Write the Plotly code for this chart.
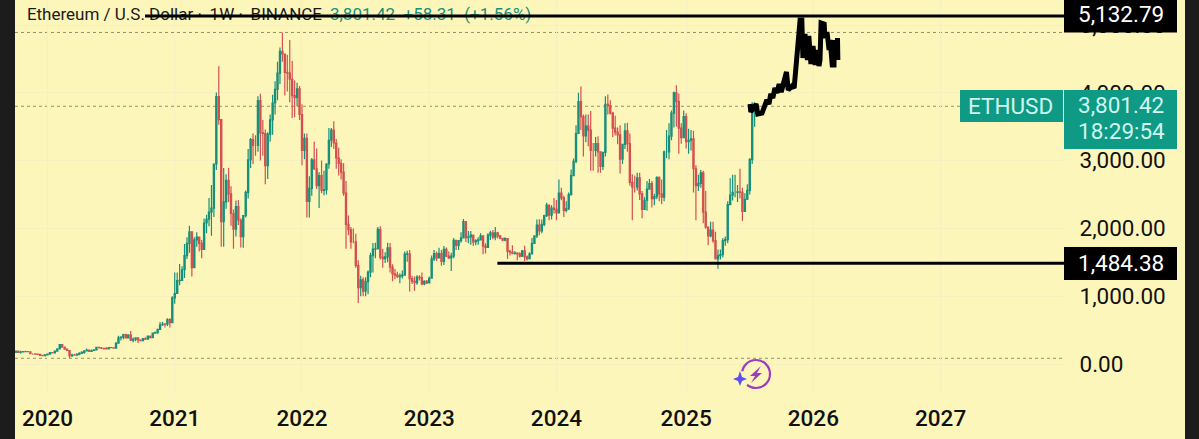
import pandas as pd
import plotly.graph_objects as go

W, H = 1199, 439
BG = "#FDF6BB"
UP = "#16907A"
DOWN = "#D2504F"

first_week = "2019-10-07"

close_2019 = [189,172,180,183,184,181,151,151,147,142,128,125,135]
high_2019 = [197,180,197,192,197,190,184,157,152,151,145,135,145]
low_2019 = [168,166,155,176,180,178,145,138,144,139,117,120,125]

close_2020 = [146,168,162,189,223,285,250,218,199,124,132,131,143,158,170,194,206,187,199,208,244,240,232,228,221,242,240,232,306,387,395,433,385,428,352,365,385,354,346,375,366,413,387,454,464,510,575,590,586,655,611,975]
high_2020 = [147,175,178,189,225,288,288,252,230,200,150,149,160,172,188,195,228,215,215,218,245,253,250,240,250,245,250,245,325,415,410,445,445,440,488,390,395,394,365,380,395,418,420,465,480,515,620,625,605,676,675,1000]
low_2020 = [130,143,155,155,180,220,240,210,190,90,105,125,125,128,150,152,190,180,180,190,200,228,222,215,215,215,235,225,230,305,345,365,375,378,340,320,335,310,340,335,355,360,375,380,445,445,500,565,540,560,540,600]

close_2021 = [1040,1230,1232,1390,1600,1780,1950,1420,1830,1870,1780,1690,2080,2135,2240,2300,2950,3945,3606,2098,2390,2710,2510,2220,1990,2320,2120,1880,2190,2530,3010,3310,3225,3225,3885,3410,3400,2925,3390,3600,3850,4050,4290,4610,4570,4300,4290,4200,3960,3930,4060,3680]
high_2021 = [1350,1350,1475,1440,1770,1870,2040,1950,1870,1945,1880,1830,2145,2200,2450,2640,2950,4005,4393,3590,2890,2800,2890,2620,2280,2410,2420,2150,2190,2560,3170,3335,3400,3375,3950,3985,3600,3460,3420,3680,3970,4170,4460,4670,4890,4340,4560,4780,4470,4180,4150,4100]
low_2021 = [890,1045,1160,1230,1270,1550,1640,1290,1420,1730,1660,1560,1680,1930,2030,1890,2170,2860,3530,1730,1730,2290,2390,2040,1700,1880,2050,1720,1715,2160,2440,2890,2950,3070,3130,3000,3070,2650,2730,3280,3380,3680,3890,4130,4460,3960,4020,3860,3630,3640,3800,3600]

close_2022 = [3150,3330,2400,2590,3010,2880,2630,2780,2560,2570,2950,3300,3450,3260,3040,2960,2830,2520,2060,1980,1800,1800,1450,1125,1240,1075,1215,1355,1600,1695,1700,1985,1575,1555,1580,1715,1430,1330,1310,1290,1300,1310,1620,1625,1260,1220,1200,1280,1275,1180,1220,1195]
high_2022 = [3830,3400,3400,2770,3040,3280,3180,2830,3000,2850,2960,3480,3480,3580,3320,3190,3020,2960,2700,2190,2020,2000,1920,1530,1300,1280,1280,1380,1640,1785,1790,2020,2030,1700,1650,1790,1785,1470,1400,1360,1340,1380,1660,1670,1680,1300,1290,1310,1310,1350,1235,1240]
low_2022 = [2930,3020,2160,2160,2480,2860,2580,2300,2520,2490,2500,2880,3200,3170,2880,2780,2720,2480,1700,1900,1700,1780,1420,900,1000,1000,1000,1030,1280,1350,1560,1690,1540,1420,1490,1500,1350,1220,1250,1270,1190,1260,1300,1510,1070,1180,1080,1170,1230,1160,1160,1180]

close_2023 = [1265,1550,1630,1565,1630,1515,1690,1590,1565,1590,1825,1750,1820,1860,2100,1865,1875,1900,1800,1820,1830,1890,1740,1720,1900,1935,1870,1935,1890,1855,1825,1850,1660,1650,1630,1635,1625,1590,1670,1580,1555,1625,1780,1890,2050,1965,2060,2190,2345,2195,2300,2280]
high_2023 = [1290,1600,1680,1660,1715,1680,1740,1720,1660,1640,1860,1830,1830,1945,2140,2110,1960,1960,1910,1840,1870,1930,1890,1780,1930,1965,1975,2020,1950,1890,1860,1870,1860,1685,1750,1665,1650,1650,1680,1745,1600,1650,1860,1895,2130,2135,2130,2200,2380,2350,2340,2450]
low_2023 = [1190,1260,1520,1520,1580,1450,1460,1575,1550,1370,1560,1680,1680,1790,1850,1800,1780,1760,1740,1750,1760,1820,1620,1630,1710,1830,1840,1825,1850,1840,1810,1810,1550,1600,1620,1610,1530,1570,1580,1520,1525,1540,1620,1770,1860,1900,1930,2030,2170,2120,2130,2220]

close_2024 = [2230,2520,2450,2265,2290,2500,2780,2990,3400,3870,3650,3365,3510,3450,3150,3150,3250,3130,2915,3120,3830,3810,3700,3480,3420,3380,3020,3240,3440,3250,2680,2610,2610,2745,2510,2280,2415,2580,2660,2440,2470,2750,2510,2460,3130,3130,3360,3700,4000,3870,3480,3340,3650]
high_2024 = [2420,2720,2600,2480,2400,2530,2870,3030,3520,4000,4093,3680,3680,3680,3730,3260,3350,3360,3130,3130,3950,3975,3890,3720,3660,3490,3520,3240,3550,3560,3400,2800,2780,2820,2820,2550,2460,2700,2730,2700,2510,2770,2770,2720,3150,3450,3550,3740,4020,4110,3990,3550,3740]
low_2024 = [2120,2220,2415,2170,2240,2270,2480,2780,2960,3400,3450,3060,3270,3210,2850,2850,3060,2820,2820,2860,3060,3680,3680,3350,3370,3240,2810,2950,3170,3130,2630,2120,2530,2560,2420,2150,2270,2260,2570,2310,2340,2430,2400,2360,2400,3040,3020,3300,3490,3500,3100,3250,3350]

close_2025 = [3280,3300,3320,2880,2630,2665,2820,2240,2020,1890,1975,1820,1550,1600,1615,1820,1835,2350,2490,2530,2530,2540,2530,2250,2430,2560,3015,3743,3801]
high_2025 = [3700,3470,3450,3440,2930,2790,2860,2850,2550,1990,2100,2100,1950,1690,1690,1860,1880,2400,2740,2790,2790,2640,2880,2600,2520,2650,3040,3860,3860]
low_2025 = [3180,3100,3150,2530,2120,2550,2600,2075,1995,1750,1870,1790,1540,1404,1540,1570,1745,1780,2430,2410,2460,2390,2440,2110,2280,2420,2500,2950,3500]

sketch_dates = ["2025-07-08","2025-07-10","2025-07-25","2025-07-30","2025-08-11","2025-08-19","2025-08-25","2025-08-31","2025-09-05","2025-09-11","2025-09-17","2025-09-23","2025-09-29","2025-10-05","2025-10-14","2025-10-20","2025-10-25","2025-11-05","2025-11-11","2025-11-17","2025-11-22","2025-11-25","2025-11-28","2025-12-03","2025-12-04","2025-12-06","2025-12-12","2025-12-19","2025-12-23","2025-12-29","2026-01-04","2026-01-10","2026-01-16","2026-01-21","2026-01-24","2026-01-27","2026-02-05","2026-02-07","2026-02-13","2026-02-19","2026-02-22","2026-02-28","2026-03-05","2026-03-06","2026-03-12","2026-03-15","2026-03-16"]
sketch_prices = [3835,3717,3835,3688,3702,3806,3894,3835,3983,3924,4071,3997,4130,4012,4160,4307,4042,4100,4071,4454,4602,4838,5074,5074,4720,4513,4868,4484,4838,4425,4690,4410,4631,4395,4484,5030,5015,4808,4897,4631,4779,4410,4410,4779,4513,4808,4484]

year_labels = ["2020","2021","2022","2023","2024","2025","2026","2027"]
year_ticks = ["2020-01-06","2021-01-04","2022-01-03","2023-01-02","2024-01-01","2025-01-06","2026-01-05","2027-01-04"]
price_ticks = [0,1000,2000,3000,4000,5000]
price_high = 5132.79
price_low = 1484.38
price_last = 3801.42
high_mark = 4890
low_mark = 84

closes = close_2019+close_2020+close_2021+close_2022+close_2023+close_2024+close_2025
highs = high_2019+high_2020+high_2021+high_2022+high_2023+high_2024+high_2025
lows = low_2019+low_2020+low_2021+low_2022+low_2023+low_2024+low_2025
opens = [170]+closes[:-1]
weeks = pd.date_range(first_week, periods=len(closes), freq="7D")

def X(px): return px/W
def Y(py): return 1-py/H

fig = go.Figure()
fig.add_trace(go.Scatter(
    x=["2019-11-08","2022-03-24"], y=[price_high,price_high], mode="text",
    text=["Ethereum / U.S. Dollar \u00b7\u2009 1W \u00b7\u2009 BINANCE","3,801.42  +58.31  (+1.56%)"],
    textposition="middle right", cliponaxis=False,
    textfont=dict(family="Roboto",size=17,color=["#1a1a1a",UP]), hoverinfo="skip"))
fig.add_trace(go.Candlestick(
    x=weeks, open=opens, high=highs, low=lows, close=closes,
    increasing=dict(line=dict(color=UP,width=1.2),fillcolor=UP),
    decreasing=dict(line=dict(color=DOWN,width=1.2),fillcolor=DOWN)))
fig.add_trace(go.Scatter(x=sketch_dates,y=sketch_prices,mode="lines",
    line=dict(color="#000000",width=5,shape="linear"),hoverinfo="skip"))

shapes = []
for v in [high_mark, price_last, low_mark]:
    shapes.append(dict(type="line",xref="paper",x0=X(15),x1=X(1064),yref="y",y0=v,y1=v,
                       line=dict(color="rgba(90,90,60,0.65)",width=1,dash="dot"),layer="below"))
shapes += [
    dict(type="line",xref="x",x0="2020-10-11",x1="2027-12-23",yref="y",y0=price_high,y1=price_high,line=dict(color="#000",width=3)),
    dict(type="line",xref="x",x0="2023-07-16",x1="2027-12-23",yref="y",y0=price_low,y1=price_low,line=dict(color="#000",width=3)),
]
def rect(x0,y0,x1,y1,color):
    return dict(type="rect",xref="paper",yref="paper",x0=X(x0),x1=X(x1),y0=Y(y0),y1=Y(y1),
                fillcolor=color,line=dict(width=0))
shapes += [
    rect(0,0,15,H,"#1C1C1C"), rect(1185,0,W,H,"#1C1C1C"),
    rect(1064,0,1177,32.5,"#000000"), rect(1064,247,1177,280,"#000000"),
    rect(960,90,1063,122,"#0E9A85"), rect(1064,90,1177,149,"#0E9A85"),
]
def path(pts):
    return "M "+" L ".join(f"{X(a):.5f},{Y(b):.5f}" for a,b in pts)+" Z"
purple = "#9B3FBE"
shapes += [
    dict(type="circle",xref="paper",yref="paper",x0=X(742),x1=X(770),y0=Y(360),y1=Y(388),
         line=dict(color=purple,width=2.2)),
    dict(type="circle",xref="paper",yref="paper",x0=X(732),x1=X(749),y0=Y(371),y1=Y(388),
         fillcolor=BG,line=dict(width=0)),
    dict(type="path",xref="paper",yref="paper",fillcolor=purple,line=dict(width=0),
         path=path([(761,366),(750,376),(755,376),(751,383),(762,373),(757,373)])),
    dict(type="path",xref="paper",yref="paper",fillcolor="#5B4FEF",line=dict(width=0),
         path=path([(740,371),(742,377),(747,379),(742,381),(740,386),(738,381),(733,379),(738,377)])),
]

def note(px,py,text,color,size=22.5):
    return dict(xref="paper",yref="paper",x=X(px),y=Y(py),text=text,showarrow=False,xanchor="left",yanchor="middle",
                font=dict(family="Roboto",size=size,color=color))
light = "#CFF6EF"
annotations = [
    note(1076,14,f"{price_high:,.2f}","#FFFFFF"),
    note(1076,263,f"{price_low:,.2f}","#FFFFFF"),
    note(966,106,"ETHUSD",light,22.5),
    note(1076,105,f"{price_last:,.2f}",light),
    note(1076,131,"18:29:54",light),
]

fig.update_layout(
    width=W,height=H,margin=dict(l=0,r=0,t=0,b=0),paper_bgcolor=BG,plot_bgcolor=BG,
    showlegend=False,shapes=shapes,annotations=annotations,hovermode=False,
    xaxis=dict(domain=[X(15),X(1064)],type="date",range=["2019-10-05","2027-12-23"],
               tickvals=year_ticks,ticktext=year_labels,rangeslider=dict(visible=False),
               showgrid=True,gridcolor="#F6EFC0",gridwidth=1,zeroline=False,showline=False,
               ticks="outside",ticklen=6,tickcolor="rgba(0,0,0,0)",
               tickfont=dict(family="Roboto",size=22.5,color="#111111",weight=500)),
    yaxis=dict(domain=[Y(392),1],range=[-413,5369],side="right",anchor="x",
               tickvals=price_ticks,tickformat=",.2f",
               showgrid=True,gridcolor="#F6EFC0",gridwidth=1,zeroline=False,showline=False,
               ticks="outside",ticklen=10,tickcolor="rgba(0,0,0,0)",
               tickfont=dict(family="Roboto",size=22.5,color="#111111")),
)
fig.write_html("out.html",config=dict(displayModeBar=False),
               post_script="document.body.style.margin='0';document.body.style.overflow='hidden';")
